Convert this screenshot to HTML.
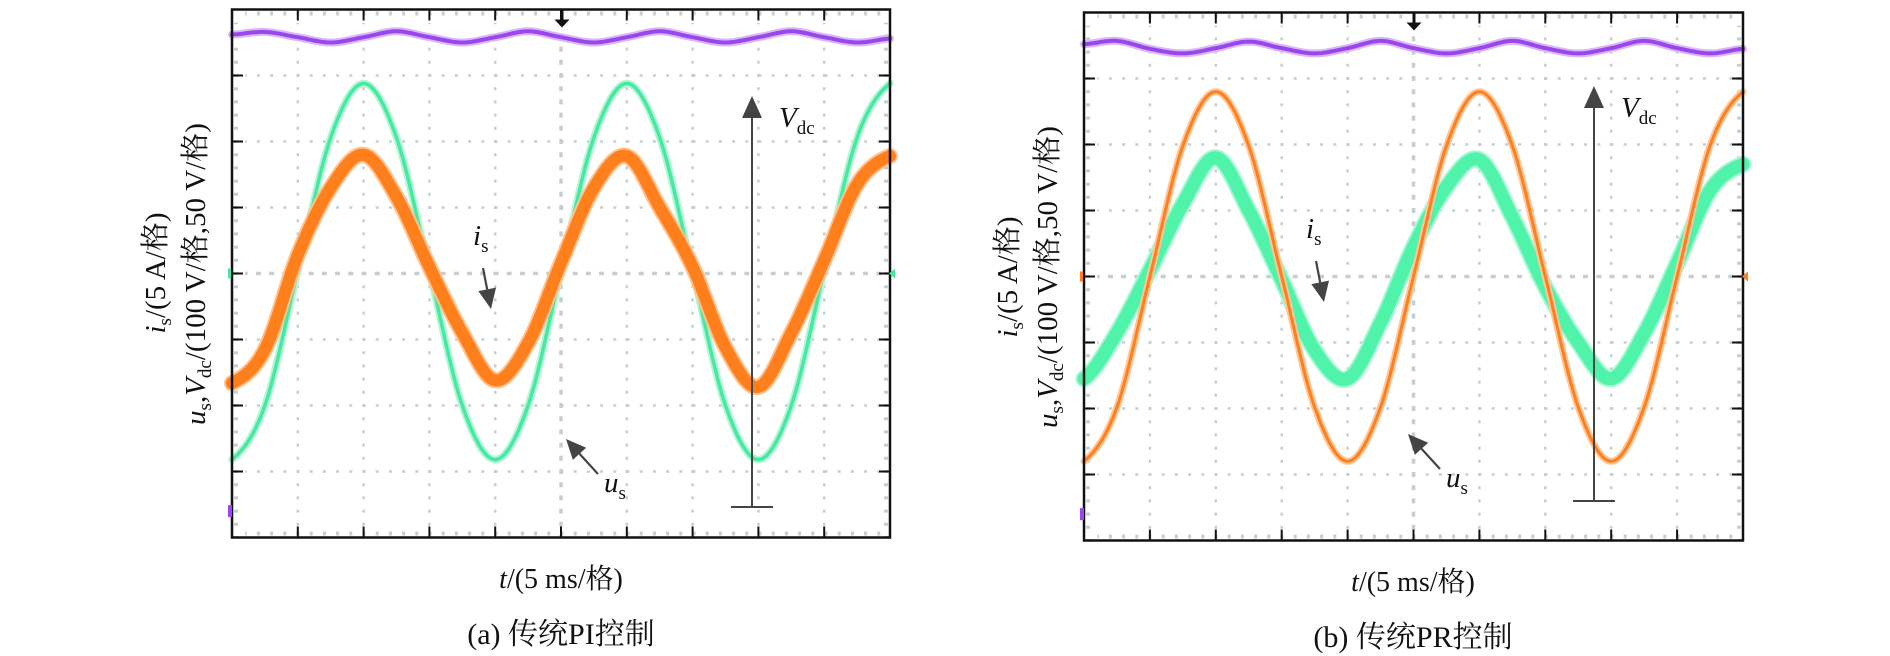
<!DOCTYPE html>
<html><head><meta charset="utf-8">
<style>
html,body{margin:0;padding:0;background:#fff;}
svg{display:block;}
text{font-family:"Liberation Serif","Noto Serif CJK SC",serif;fill:#111;}
</style></head>
<body>
<svg id="fig" width="1890" height="656" viewBox="0 0 1890 656" xmlns="http://www.w3.org/2000/svg">
  <rect width="1890" height="656" fill="#fff"/>
  <g id="panelA"></g>
  <g id="panelB"></g>

  <!-- Panel (a) text -->
  <text transform="translate(165,273) rotate(-90)" text-anchor="middle" font-size="29"><tspan font-style="italic">i</tspan><tspan font-size="19" dy="6">s</tspan><tspan dy="-6">/(5 A/格)</tspan></text>
  <text transform="translate(205,274) rotate(-90)" text-anchor="middle" font-size="29"><tspan font-style="italic">u</tspan><tspan font-size="19" dy="6">s</tspan><tspan dy="-6">,</tspan><tspan font-style="italic">V</tspan><tspan font-size="19" dy="6">dc</tspan><tspan dy="-6">/(100 V/格,50 V/格)</tspan></text>
  <text x="561" y="588" text-anchor="middle" font-size="28"><tspan font-style="italic">t</tspan>/(5 ms/格)</text>
  <text x="561" y="644" text-anchor="middle" font-size="30">(a) 传统PI控制</text>

  <!-- Panel (b) text -->
  <text transform="translate(1017,277) rotate(-90)" text-anchor="middle" font-size="29"><tspan font-style="italic">i</tspan><tspan font-size="19" dy="6">s</tspan><tspan dy="-6">/(5 A/格)</tspan></text>
  <text transform="translate(1057,277) rotate(-90)" text-anchor="middle" font-size="29"><tspan font-style="italic">u</tspan><tspan font-size="19" dy="6">s</tspan><tspan dy="-6">,</tspan><tspan font-style="italic">V</tspan><tspan font-size="19" dy="6">dc</tspan><tspan dy="-6">/(100 V/格,50 V/格)</tspan></text>
  <text x="1413" y="591" text-anchor="middle" font-size="28"><tspan font-style="italic">t</tspan>/(5 ms/格)</text>
  <text x="1413" y="647" text-anchor="middle" font-size="30">(b) 传统PR控制</text>
</svg>
<script>
// time samples in divisions (5 ms/div)
const tDiv = [0,0.5,1,1.5,2,2.5,3,3.5,4,4.5,5,5.5,6,6.5,7,7.5,8,8.5,9,9.5,10];
// Panel (a) values in divisions (positive = up from centre)
const aVoltage = [-2.82,-2.0,0.04,2.06,2.88,2.06,0.04,-2.0,-2.82,-2.0,0.04,2.06,2.88,2.06,0.04,-2.0,-2.82,-2.0,0.04,2.06,2.88];
const aCurrent = [-1.66,-1.15,0.28,1.3,1.8,1.16,0.1,-0.9,-1.62,-1.05,0.16,1.3,1.78,1.0,0.1,-1.12,-1.72,-0.9,0.2,1.35,1.78];
const aDc = [3.62,3.66,3.58,3.5,3.58,3.67,3.58,3.5,3.58,3.67,3.58,3.5,3.58,3.67,3.58,3.5,3.58,3.67,3.58,3.5,3.56];
// Panel (b)
const bVoltage = [-2.8,-1.98,0.0,1.98,2.8,1.98,0.0,-1.98,-2.8,-1.98,0.0,1.98,2.8,1.98,0.0,-1.98,-2.8,-1.98,0.0,1.98,2.8];
const bCurrent = [-1.55,-0.85,0.1,1.1,1.8,1.0,-0.05,-1.12,-1.55,-0.7,0.45,1.36,1.77,0.9,-0.16,-1.0,-1.55,-0.86,0.2,1.3,1.7];
const bDc = [3.52,3.57,3.45,3.38,3.46,3.56,3.46,3.38,3.46,3.57,3.46,3.38,3.46,3.57,3.46,3.38,3.46,3.57,3.46,3.38,3.45];

const NS = 'http://www.w3.org/2000/svg';
function mk(tag, attrs, parent){
  const e = document.createElementNS(NS, tag);
  for (const k in attrs) e.setAttribute(k, attrs[k]);
  parent.appendChild(e);
  return e;
}

function interp(ts, vs, t){
  // Catmull-Rom
  const h = ts[1]-ts[0];
  let i = Math.min(Math.floor((t-ts[0])/h), ts.length-2);
  if (i<0) i=0;
  const u = (t-ts[i])/h;
  const p0 = vs[Math.max(i-1,0)], p1 = vs[i], p2 = vs[i+1], p3 = vs[Math.min(i+2,vs.length-1)];
  return 0.5*((2*p1)+(-p0+p2)*u+(2*p0-5*p1+4*p2-p3)*u*u+(-p0+3*p1-3*p2+p3)*u*u*u);
}

function drawPanel(g, P){
  const x = t => P.x0 + t*(P.x1-P.x0)/10;
  const y = v => P.yc - v*P.div;
  const bottom = P.yc + 4*P.div, top = P.yc - 4*P.div;
  const grid = mk('g', {}, g);
  
  
  const gc = '#c5cfcf';
  const sub = P.div/5;
  for (let k=1;k<10;k++){
    const l = mk('line',{x1:x(k),x2:x(k),y1:top+sub,y2:bottom,stroke:gc,'stroke-width':k==5?3.5:2.5,'stroke-dasharray':(k==5?'5 ':'3 ')+(sub-(k==5?5:3)),'stroke-dashoffset':k==5?2.5:1.5},grid);
  }
  for (let k=1;k<8;k++){
    const yy = top + k*P.div;
    mk('line',{x1:P.x0+sub,x2:P.x1,y1:yy,y2:yy,stroke:gc,'stroke-width':k==4?3.5:2.5,'stroke-dasharray':(k==4?'5 ':'3 ')+(sub-(k==4?5:3)),'stroke-dashoffset':k==4?2.5:1.5},grid);
  }
  // minor edge dots
  mk('line',{x1:P.x0+sub,x2:P.x1,y1:top+4,y2:top+4,stroke:gc,'stroke-width':4,'stroke-dasharray':'3 '+(sub-3),'stroke-dashoffset':1.5},grid);
  mk('line',{x1:P.x0+sub,x2:P.x1,y1:bottom-4,y2:bottom-4,stroke:gc,'stroke-width':4,'stroke-dasharray':'3 '+(sub-3),'stroke-dashoffset':1.5},grid);
  mk('line',{x1:P.x0+4,x2:P.x0+4,y1:top+sub,y2:bottom,stroke:gc,'stroke-width':4,'stroke-dasharray':'3 '+(sub-3),'stroke-dashoffset':1.5},grid);
  mk('line',{x1:P.x1-4,x2:P.x1-4,y1:top+sub,y2:bottom,stroke:gc,'stroke-width':4,'stroke-dasharray':'3 '+(sub-3),'stroke-dashoffset':1.5},grid);

  function curve(vals, color, w, name, halo){
    let d='';
    for (let t=0;t<=10.0001;t+=0.04){
      d += (d?'L':'M') + x(t).toFixed(1)+','+y(interp(tDiv, vals, t)).toFixed(1);
    }
    if (halo){
      const hp = mk('path',{d:d,fill:'none',stroke:halo,'stroke-width':w+4,'stroke-linejoin':'round','stroke-linecap':'round'},g);
      
      
    }
    const p = mk('path',{d:d,fill:'none',stroke:color,'stroke-width':w,'stroke-linejoin':'round','stroke-linecap':'round'},g);
    
    
  }
  curve(P.dc, '#9b45ee', 4, 'vdc-trace', '#d9b8f6');
  if (P.kind==='a'){
    curve(P.voltage, '#45eaa2', 3.5, 'us-trace', '#b6f5d8');
    curve(P.current, '#ff7f1c', 12, 'is-trace', '#ffc28f');
  } else {
    curve(P.current, '#4ff3aa', 13, 'is-trace', '#a8f8d4');
    curve(P.voltage, '#ff7f1c', 3, 'us-trace', '#ffc69a');
  }

  // frame and ticks
  const fr = mk('rect',{x:P.x0,y:top,width:P.x1-P.x0,height:bottom-top,fill:'none',stroke:'#111','stroke-width':2.5},g);
  
  
  const tk = mk('g',{stroke:'#111','stroke-width':2},g);
  
  
  for (let k=1;k<10;k++){
    mk('line',{x1:x(k),x2:x(k),y1:top,y2:top+11},tk);
    mk('line',{x1:x(k),x2:x(k),y1:bottom,y2:bottom-11},tk);
  }
  for (let k=1;k<8;k++){
    const yy = top+k*P.div;
    mk('line',{x1:P.x0,x2:P.x0+11,y1:yy,y2:yy},tk);
    mk('line',{x1:P.x1,x2:P.x1-11,y1:yy,y2:yy},tk);
  }
  // trigger marker at top
  const tm = mk('path',{d:`M${P.trig-1.5},${top}V${top+10}h-6l7.5,8l7.5,-8h-6V${top}z`,fill:'#111'},g);
  
  
  // channel level markers
  const m1 = mk('rect',{x:P.x0-4,y:P.yc+3.6*P.div-6,width:4,height:12,fill:'#9b45ee'},g);
  
  
  const m2 = mk('path',{d:`M${P.x0-4},${P.yc-5}h3v10h-3z M${P.x1-1},${P.yc}l6,-5v10z`,fill:P.kind==='a'?'#45eaa2':'#ff7f1c'},g);
  
  

  // Vdc arrow
  const va = mk('g',{},g);
  
  
  mk('line',{x1:P.vx,x2:P.vx,y1:P.vTop+18,y2:P.vBot,stroke:'#444','stroke-width':2},va);
  mk('path',{d:`M${P.vx},${P.vTop}l-10,22h20z`,fill:'#444'},va);
  mk('line',{x1:P.vx-21,x2:P.vx+21,y1:P.vBot,y2:P.vBot,stroke:'#444','stroke-width':2},va);
  const vt = mk('text',{x:P.vx+27,y:P.vTop+31,'font-size':29},va);
  vt.innerHTML = '<tspan font-style="italic">V</tspan><tspan font-size="19" dy="7">dc</tspan>';

  // i_s label
  const il = mk('g',{},g);
  
  
  const it = mk('text',{x:P.ix,y:P.iy,'font-size':29},il);
  it.innerHTML = '<tspan font-style="italic">i</tspan><tspan font-size="19" dy="7">s</tspan>';
  const ax1=P.ix+10, ay1=P.iy+23, ax2=P.ix+18, ay2=P.iy+64;
  drawArrow(il, ax1, ay1, ax2, ay2);
  // u_s label
  const ul = mk('g',{},g);
  
  
  const ut = mk('text',{x:P.ux,y:P.uy,'font-size':29},ul);
  ut.innerHTML = '<tspan font-style="italic">u</tspan><tspan font-size="19" dy="7">s</tspan>';
  drawArrow(ul, P.ux-6, P.uy-18, P.ux-38, P.uy-53);
}
function drawArrow(parent, x1,y1,x2,y2){
  const dx=x2-x1, dy=y2-y1, L=Math.hypot(dx,dy), ux=dx/L, uy=dy/L;
  const hl=20, hw=9;
  const bx=x2-ux*hl, by=y2-uy*hl;
  mk('line',{x1:x1,y1:y1,x2:bx,y2:by,stroke:'#444','stroke-width':2.2},parent);
  mk('path',{d:`M${x2},${y2}L${bx-uy*hw},${by+ux*hw}L${bx+uy*hw},${by-ux*hw}z`,fill:'#444'},parent);
}

drawPanel(document.getElementById('panelA'), {kind:'a', x0:232, x1:890, yc:273.5, div:66,
  voltage:aVoltage, current:aCurrent, dc:aDc, trig:562, vx:752, vTop:96, vBot:507,
  ix:473, iy:245, ux:604, uy:492});
drawPanel(document.getElementById('panelB'), {kind:'b', x0:1084, x1:1743, yc:276.5, div:66,
  voltage:bVoltage, current:bCurrent, dc:bDc, trig:1414, vx:1594, vTop:86, vBot:501,
  ix:1306, iy:238, ux:1446, uy:487});
</script>
</body></html>
